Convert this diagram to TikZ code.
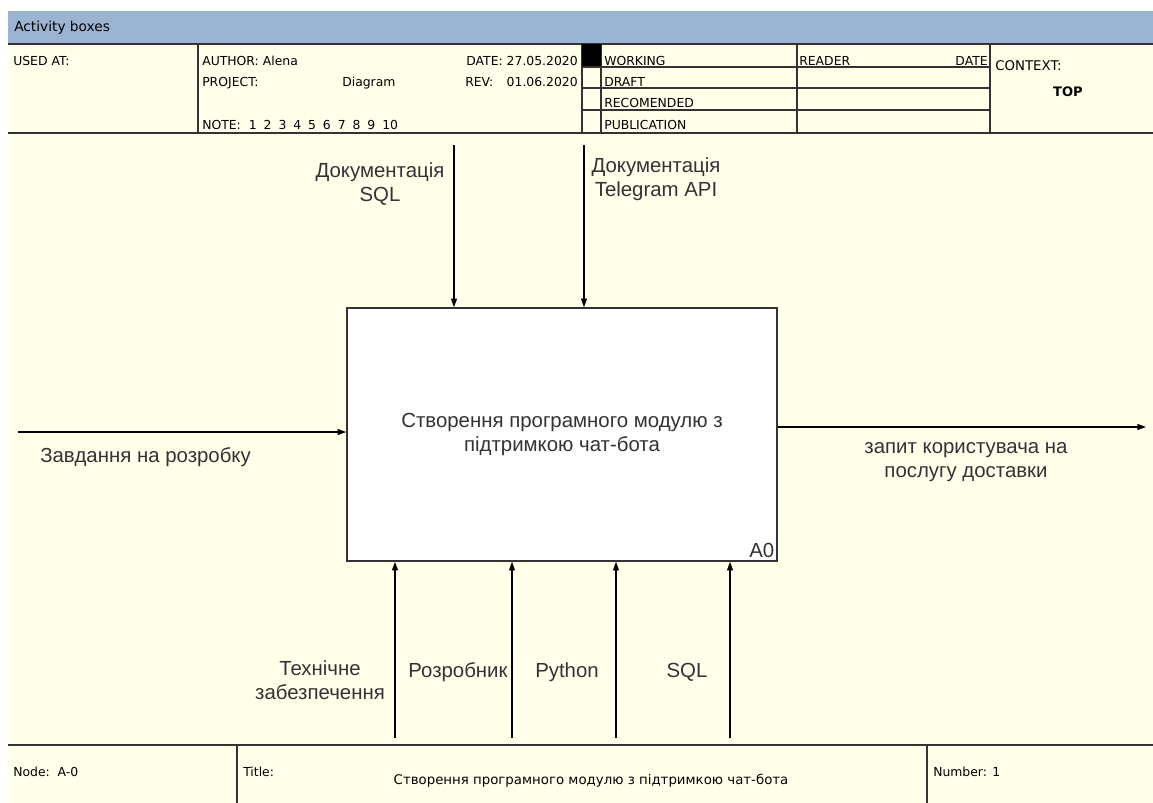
\documentclass[tikz,border=0pt]{standalone}
\usepackage{fontspec}
\setmainfont{Liberation Sans}
\newfontfamily\formfont{DejaVu Sans}
\usetikzlibrary{arrows.meta}
\definecolor{paper}{HTML}{FFFFEA}
\definecolor{band}{HTML}{9AB4D2}
\definecolor{ink}{HTML}{333333}
\begin{document}
\begin{tikzpicture}[x=0.75pt,y=-0.75pt,
  frame/.style={draw=ink, line width=1.1pt},
  thin/.style={draw=ink, line width=0.8pt},
  small/.style={font=\formfont\fontsize{9.3}{11}\selectfont, inner sep=0, anchor=base west, text=black},
  lbl/.style={font=\fontsize{15.3}{18}\selectfont, align=center, text=ink, inner sep=0},
  flow/.style={draw=black, line width=0.9pt, -{Triangle[length=6.5pt,width=4.5pt]}}]

% page and frame areas
\useasboundingbox (0,0) rectangle (1153,803);
\fill[white] (0,0) rectangle (1153,803);
\fill[paper] (8,44) rectangle (1153,803);
\fill[band] (8,11) rectangle (1153,44);
\node[small, anchor=west, font=\formfont\fontsize{10.3}{12}\selectfont] (bandtitle) at (14,28) {Activity boxes};

% header table
\draw[frame] (8,44) -- (1153,44);
\draw[frame] (8,133) -- (1153,133);
\foreach \xv in {198,582,601,797,990} \draw[frame] (\xv,44) -- (\xv,133);
\fill[black] (582,44) rectangle (601,67);
\foreach \yv in {67,88,110} \draw[thin] (582,\yv) -- (990,\yv);

\node[small] (usedat) at (13,65) {USED AT:};
\node[small] (author) at (202,65) {AUTHOR: Alena};
\node[small] (project) at (202,86) {PROJECT:};
\node[small] (projname) at (342,86) {Diagram};
\node[small, anchor=base east] (date) at (578,65) {DATE: 27.05.2020};
\node[small] (rev) at (465,86) {REV:};
\node[small, anchor=base east] (revdate) at (578,86) {01.06.2020};
\node[small] (note) at (202,129) {NOTE:\hspace{6pt}1\hspace{5.2pt}2\hspace{5.2pt}3\hspace{5.2pt}4\hspace{5.2pt}5\hspace{5.2pt}6\hspace{5.2pt}7\hspace{5.2pt}8\hspace{5.2pt}9\hspace{5.2pt}10};
\node[small] (working) at (604,65) {WORKING};
\node[small] (draft) at (604,86) {DRAFT};
\node[small] (recom) at (604,107) {RECOMENDED};
\node[small] (public) at (604,129) {PUBLICATION};
\node[small] (reader) at (799,65) {READER};
\node[small, anchor=base east] (rdate) at (988,65) {DATE};
\node[small, font=\formfont\fontsize{10}{12}\selectfont] (context) at (995,70) {CONTEXT:};
\node[small, anchor=base, font=\formfont\fontsize{9.8}{11}\selectfont\bfseries] (top) at (1068,96) {TOP};

% footer
\draw[frame] (8,745) -- (1153,745);
\foreach \xv in {237,927} \draw[frame] (\xv,745) -- (\xv,803);
\node[small] (node) at (13,776) {Node:\ \ A-0};
\node[small] (titlelbl) at (243,776) {Title:};
\node[small, anchor=base, font=\formfont\fontsize{10}{12}\selectfont] (title) at (591,784) {Створення програмного модулю з підтримкою чат-бота};
\node[small] (number) at (933,776) {Number: 1};

% activity box
\node[draw=ink, line width=1.2pt, fill=white, minimum width=322.5pt, minimum height=189.75pt, inner sep=0] (box) at (562,434.5) {};
\node[lbl] (boxtext) at (562,434) {Створення програмного модулю з\\підтримкою чат-бота};
\node[lbl, anchor=south east, xshift=-2.5pt, yshift=3pt] (boxid) at (box.south east) {A0};

% free ends of the arrows
\coordinate (ctl1) at (454,145);
\coordinate (ctl2) at (584,145);
\coordinate (inp) at (18,432);
\coordinate (outp) at (1146,427);
\coordinate (mec1) at (395,738);
\coordinate (mec2) at (512,738);
\coordinate (mec3) at (616,738);
\coordinate (mec4) at (730,738);

% controls
\draw[flow] (ctl1) -- (ctl1 |- box.north);
\draw[flow] (ctl2) -- (ctl2 |- box.north);
% input and output
\draw[flow] (inp) -- (inp -| box.west);
\draw[flow] (outp -| box.east) -- (outp);
% mechanisms
\foreach \m in {mec1,mec2,mec3,mec4} \draw[flow] (\m) -- (\m |- box.south);

% arrow labels
\node[lbl] (l1) at (380,184) {Документація\\SQL};
\node[lbl] (l2) at (656,179) {Документація\\Telegram API};
\node[lbl, anchor=west] (l3) at (40,457) {Завдання на розробку};
\node[lbl] (l4) at (966,462) {запит користувача на\\послугу доставки};
\node[lbl] (l5) at (320,680) {Технічне\\забезпечення};
\node[lbl] (l6) at (458,672) {Розробник};
\node[lbl] (l7) at (567,672) {Python};
\node[lbl] (l8) at (687,672) {SQL};
\end{tikzpicture}
\end{document}
